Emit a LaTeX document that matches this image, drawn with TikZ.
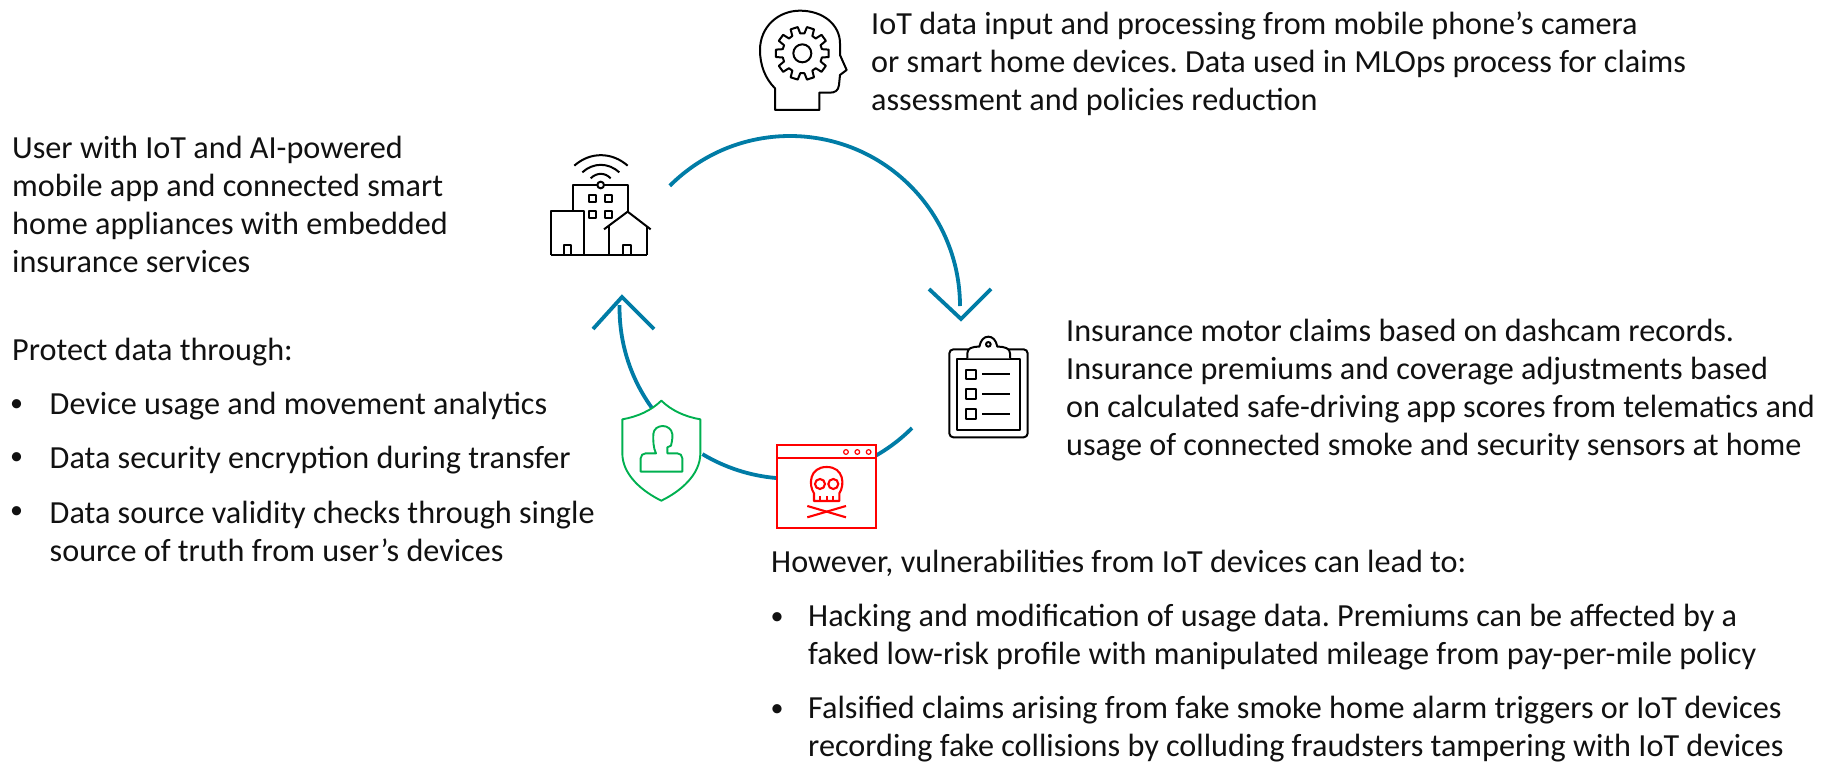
\documentclass[tikz,border=0pt]{standalone}
\usepackage{fontspec}
\usetikzlibrary{calc}
\setmainfont{Carlito}
\frenchspacing
\definecolor{arcblue}{HTML}{007CA6}
\definecolor{shieldgreen}{HTML}{00B050}
\definecolor{inkblack}{HTML}{111111}
\tikzset{
 txt/.style={anchor=north west,inner sep=0pt,align=left,text=inkblack,font=\fontsize{32.2}{38}\selectfont},
 dot/.style={anchor=base west,inner sep=0pt,text=inkblack,font=\fontsize{26}{38}\selectfont},
 cyc/.style={draw=arcblue,line width=3.8pt},
 icon/.style={draw=black,line width=2.0pt,line join=round},
 greenline/.style={draw=shieldgreen,line width=1.9pt,line join=round},
 redline/.style={draw=red,line width=2.1pt,line join=miter},
}
\begin{document}
\begin{tikzpicture}[x=1pt,y=-1pt]
\useasboundingbox (0,0) rectangle (1835,761);
\coordinate (c) at (790,306);
% cycle arcs
\draw[cyc] ($(c)+(225:170)$) arc[start angle=225,end angle=360,radius=170];
\draw[cyc] (929,289) -- (961,319) -- (991,289);
\draw[cyc] (912,428) arc[start angle=45,end angle=60,radius=172];
\draw[cyc] (776,478) arc[start angle=95,end angle=121,radius=172];
\draw[cyc] (652,408) arc[start angle=144,end angle=181,radius=170];
\draw[cyc] (593,329) -- (622,297) -- (654,329);
% head
\begin{scope}[shift={(740,0)},x=0.3333pt,y=-0.3333pt]
\draw[icon] (105,330) -- (105,265) .. controls (75,235) and (60,195) .. (60,150)
 .. controls (60,80) and (115,32) .. (180,32)
 .. controls (250,32) and (300,75) .. (300,130)
 -- (300,165) -- (320,210) -- (300,225) -- (297,255)
 .. controls (295,272) and (285,278) .. (270,278)
 -- (238,278) -- (238,330) -- cycle;
\draw[icon] (187,160) circle[radius=27];
\draw[icon] ([shift={(187,160)}]-12:60) \foreach \a in {0,36,...,324} {
  -- ([shift={(187,160)}]\a-12:60)
  -- ([shift={(187,160)}]\a-8:80) -- ([shift={(187,160)}]\a+8:80) -- ([shift={(187,160)}]\a+12:60)
 } -- cycle;
\end{scope}
% building
\begin{scope}[shift={(530,140)},x=0.3333pt,y=-0.3333pt]
\draw[icon] (133,77) .. controls (180,35) and (245,35) .. (293,77);
\draw[icon] (157,97) .. controls (190,67) and (235,67) .. (268,97);
\draw[icon] (182,115) .. controls (200,97) and (225,97) .. (242,115);
\draw[icon] (212,135) circle[radius=10];
\draw[icon] (130,210) -- (130,135) -- (202,135);
\draw[icon] (222,135) -- (293,135) -- (293,215);
\draw[icon] (177,165) rectangle (197,185);
\draw[icon] (226,165) rectangle (246,185);
\draw[icon] (177,213) rectangle (197,233);
\draw[icon] (226,213) rectangle (246,233);
\draw[icon] (62,345) -- (62,212) -- (162,212) -- (162,345);
\draw[icon] (62,345) -- (350,345);
\draw[icon] (102,345) -- (102,315) -- (122,315) -- (122,345);
\draw[icon] (222,268) -- (293,215) -- (362,268);
\draw[icon] (237,258) -- (237,345);
\draw[icon] (350,258) -- (350,345);
\draw[icon] (280,345) -- (280,315) -- (303,315) -- (303,345);
\end{scope}
% clipboard
\begin{scope}[shift={(930,320)},x=0.3333pt,y=-0.3333pt]
\draw[icon,rounded corners=4pt] (58,88) rectangle (293,352);
\draw[icon] (82,117) rectangle (270,330);
\draw[icon,fill=white] (112,115) -- (112,100) .. controls (112,85) and (125,80) .. (148,80)
 .. controls (152,60) and (162,50) .. (175,50)
 .. controls (188,50) and (198,60) .. (202,80)
 .. controls (225,80) and (240,85) .. (240,100) -- (240,115);
\draw[icon] (175,73) circle[radius=7];
\foreach \y in {150,208,268} {
 \draw[icon] (107,\y) rectangle (137,\y+28);
 \draw[icon] (157,\y+13) -- (240,\y+13);
}
\end{scope}
% shield and skull window
\begin{scope}[shift={(590,280)},x=0.3333pt,y=-0.3333pt]
\draw[greenline] (214,362) .. controls (245,392) and (285,410) .. (331,418)
 -- (331,520) .. controls (331,585) and (270,635) .. (214,662)
 .. controls (158,635) and (97,585) .. (97,520)
 -- (97,418) .. controls (143,410) and (183,392) .. (214,362) -- cycle;
\draw[greenline] (152,575) -- (277,575) -- (277,535) .. controls (277,526) and (270,520) .. (262,520)
 -- (232,520) -- (232,502) -- (243,497) .. controls (247,480) and (248,470) .. (247,462)
 .. controls (245,447) and (232,438) .. (218,438)
 .. controls (204,438) and (191,447) .. (190,462)
 .. controls (189,480) and (190,505) .. (198,520)
 -- (167,520) .. controls (159,520) and (152,526) .. (152,535) -- cycle;
\draw[redline] (560,495) rectangle (859,743);
\draw[redline] (560,533) -- (859,533);
\foreach \x in {768,802,836} \draw[draw=red,line width=1.2pt] (\x,516) circle[radius=7];
\draw[redline,line join=round] (672,663) -- (672,640) .. controls (655,615) and (658,561) .. (710,561)
 .. controls (762,561) and (765,615) .. (748,640) -- (748,663) -- cycle;
\draw[redline] (690,612) circle[radius=15];
\draw[redline] (730,612) circle[radius=15];
\foreach \x in {691,710,729} \draw[redline] (\x,648) -- (\x,663);
\draw[redline] (652,678) -- (768,712);
\draw[redline] (652,712) -- (768,678);
\end{scope}
% texts
\node[txt] (t1) at (871,12) {IoT data input and processing from mobile phone’s camera\\or smart home devices. Data used in MLOps process for claims\\assessment and policies reduction};
\node[txt] (t2) at (12,136) {User with IoT and AI-powered\\mobile app and connected smart\\home appliances with embedded\\insurance services};
\node[txt] (t3) at (12,338) {Protect data through:};
\node[txt] (t4) at (49.5,392) {Device usage and movement analytics};
\node[dot] (b1) at (10,411) {•};
\node[txt] (t5) at (49.5,446) {Data security encryption during transfer};
\node[dot] (b2) at (10,464) {•};
\node[txt] (t6) at (49.5,500.5) {Data source validity checks through single\\source of truth from user’s devices};
\node[dot] (b3) at (10,518) {•};
\node[txt] (t7) at (1066,319) {Insurance motor claims based on dashcam records.\\Insurance premiums and coverage adjustments based\\on calculated safe-driving app scores from telematics and\\usage of connected smoke and security sensors at home};
\node[txt] (t8) at (771,550) {However, vulnerabilities from IoT devices can lead to:};
\node[txt] (t9) at (808,604) {Hacking and modification of usage data. Premiums can be affected by a\\faked low-risk profile with manipulated mileage from pay-per-mile policy};
\node[dot] (b4) at (770.5,624) {•};
\node[txt] (t10) at (808,696) {Falsified claims arising from fake smoke home alarm triggers or IoT devices\\recording fake collisions by colluding fraudsters tampering with IoT devices};
\node[dot] (b5) at (770.5,716) {•};
\end{tikzpicture}
\end{document}
